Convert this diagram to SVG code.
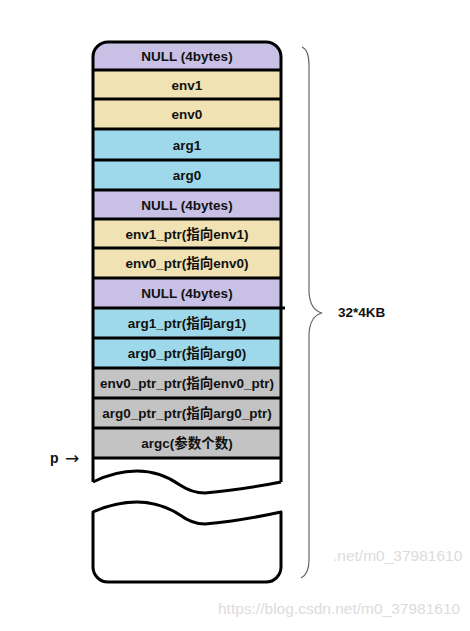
<svg xmlns="http://www.w3.org/2000/svg" width="470" height="631" viewBox="0 0 470 631">
<style>
.t{font-family:"Liberation Sans","Noto Sans CJK SC",sans-serif;font-weight:bold;font-size:13.5px;fill:#111;text-anchor:middle}
.null{fill:#C9C1E5}
.env{fill:#F0E2B3}
.arg{fill:#9DD9EA}
.ptr{fill:#C3C3C3}
.sep{stroke:#000;stroke-width:3}
.wm{font-family:"Liberation Sans",sans-serif;fill:#DCDCDC}
</style>
<rect width="470" height="631" fill="#fff"/>
<g id="rows">
<g id="n0"><path class="null" d="M93,70 L93,57 A15,15 0 0 1 108,42 L266,42 A15,15 0 0 1 281,57 L281,70 Z"/><text class="t" x="187" y="61">NULL (4bytes)</text></g>
<g id="n1"><rect class="env" x="93" y="70" width="188" height="29"/><text class="t" x="187" y="89.5">env1</text></g>
<g id="n2"><rect class="env" x="93" y="99" width="188" height="30"/><text class="t" x="187" y="119">env0</text></g>
<g id="n3"><rect class="arg" x="93" y="129" width="188" height="31"/><text class="t" x="187" y="149.5">arg1</text></g>
<g id="n4"><rect class="arg" x="93" y="160" width="188" height="30"/><text class="t" x="187" y="180">arg0</text></g>
<g id="n5"><rect class="null" x="93" y="190" width="188" height="29"/><text class="t" x="187" y="209.5">NULL (4bytes)</text></g>
<g id="n6"><rect class="env" x="93" y="219" width="188" height="29"/><text class="t" x="187" y="238.5">env1_ptr(指向env1)</text></g>
<g id="n7"><rect class="env" x="93" y="248" width="188" height="30"/><text class="t" x="187" y="268">env0_ptr(指向env0)</text></g>
<g id="n8"><rect class="null" x="93" y="278" width="188" height="30"/><text class="t" x="187" y="298">NULL (4bytes)</text></g>
<g id="n9"><rect class="arg" x="93" y="308" width="188" height="30"/><text class="t" x="187" y="328">arg1_ptr(指向arg1)</text></g>
<g id="n10"><rect class="arg" x="93" y="338" width="188" height="30"/><text class="t" x="187" y="358">arg0_ptr(指向arg0)</text></g>
<g id="n11"><rect class="ptr" x="93" y="368" width="188" height="30"/><text class="t" x="187" y="388">env0_ptr_ptr(指向env0_ptr)</text></g>
<g id="n12"><rect class="ptr" x="93" y="398" width="188" height="30"/><text class="t" x="187" y="418">arg0_ptr_ptr(指向arg0_ptr)</text></g>
<g id="n13"><rect class="ptr" x="93" y="428" width="188" height="30"/><text class="t" x="187" y="448">argc(参数个数)</text></g>
</g>
<g id="outline" fill="none" stroke="#000" stroke-width="3" stroke-linejoin="round">
<line class="sep" x1="93" y1="70" x2="281" y2="70"/>
<line class="sep" x1="93" y1="99" x2="281" y2="99"/>
<line class="sep" x1="93" y1="129" x2="281" y2="129"/>
<line class="sep" x1="93" y1="160" x2="281" y2="160"/>
<line class="sep" x1="93" y1="190" x2="281" y2="190"/>
<line class="sep" x1="93" y1="219" x2="281" y2="219"/>
<line class="sep" x1="93" y1="248" x2="281" y2="248"/>
<line class="sep" x1="93" y1="278" x2="281" y2="278"/>
<line class="sep" x1="93" y1="308" x2="285" y2="308"/>
<line class="sep" x1="93" y1="338" x2="281" y2="338"/>
<line class="sep" x1="93" y1="368" x2="281" y2="368"/>
<line class="sep" x1="93" y1="398" x2="281" y2="398"/>
<line class="sep" x1="93" y1="428" x2="281" y2="428"/>
<line class="sep" x1="93" y1="458" x2="281" y2="458"/>
<path d="M93,482 L93,57 A15,15 0 0 1 108,42 L266,42 A15,15 0 0 1 281,57 L281,482"/>
<path d="M93,482 Q115,471 137,471 Q160,471 180,485 Q192,493 205,493 Q240,490 281,482"/>
<path d="M93,512 Q115,502 137,502 Q160,502 180,515 Q192,524 205,524 Q240,521 281,512 L281,567 A15,15 0 0 1 266,582 L108,582 A15,15 0 0 1 93,567 Z"/>
</g>
<g id="connectors">
<path id="brace" d="M302,47 Q309,50 309,65 L309,292 Q310,310 322,313 Q310,316 309,334 L309,560 Q309,574 301,578" fill="none" stroke="#666" stroke-width="1.2"/>
<text class="t" x="338" y="317" style="text-anchor:start">32*4KB</text>
</g>
<g id="pointer">
<text class="t" x="50" y="463" style="text-anchor:start;font-size:14px">p</text>
<text x="65" y="464" style="font-family:'DejaVu Sans',sans-serif;font-size:17px;fill:#111">→</text>
</g>
<text class="wm" x="333" y="561" font-size="15.5">.net/m0_37981610</text>
<text class="wm" x="218" y="614" font-size="15.5">https://blog.csdn.net/m0_37981610</text>
</svg>
